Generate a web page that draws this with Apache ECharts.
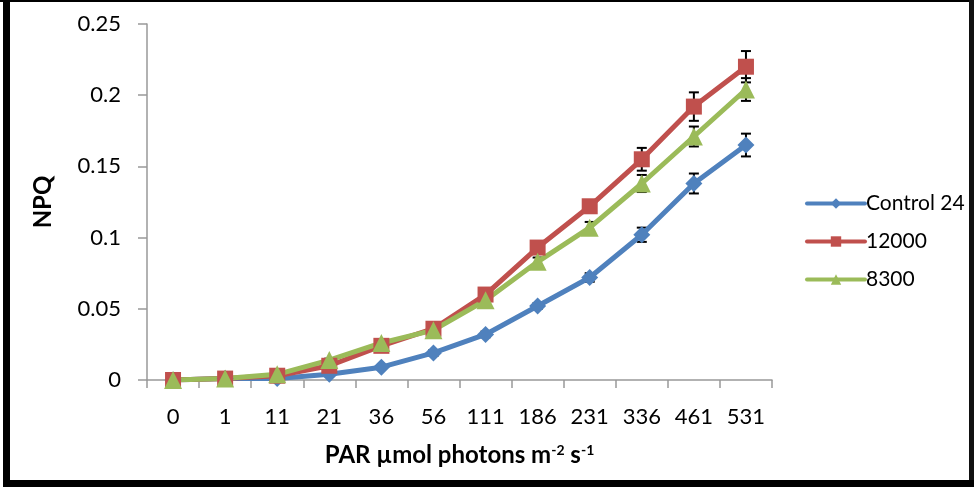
<!DOCTYPE html>
<html>
<head>
<meta charset="utf-8">
<script src="https://cdn.jsdelivr.net/npm/echarts@6/dist/echarts.min.js"></script>
<style>
  html, body { margin: 0; padding: 0; background: #fff; }
  #main { width: 974px; height: 487px; }
</style>
</head>
<body>
<div id="main"></div>
<script type="text/javascript">

	var par = ['0', '1', '11', '21', '36', '56', '111', '186', '231', '336', '461', '531'];

	var control24 = [0, 0.001, 0.001, 0.004, 0.009, 0.019, 0.032, 0.052, 0.072, 0.102, 0.138, 0.165];
	var s12000    = [0, 0.001, 0.003, 0.010, 0.024, 0.036, 0.060, 0.093, 0.122, 0.155, 0.192, 0.220];
	var s8300     = [0, 0.001, 0.004, 0.014, 0.026, 0.035, 0.056, 0.083, 0.107, 0.138, 0.171, 0.204];

	var errControl = [0, 0, 0, 0.001, 0.001, 0.002, 0.002, 0.002, 0.003, 0.005, 0.007, 0.008];
	var err12000   = [0, 0, 0, 0.001, 0.002, 0.002, 0.003, 0.003, 0.004, 0.008, 0.010, 0.011];
	var err8300    = [0, 0, 0, 0.001, 0.001, 0.002, 0.002, 0.003, 0.004, 0.006, 0.007, 0.008];

	var yTicks = [0, 0.05, 0.1, 0.15, 0.2, 0.25];

	var font = 'Lato, "Open Sans", sans-serif';

	function errData(vals, errs) {
		return vals.map(function (v, i) { return [i, v, errs[i]]; });
	}

	// black error bars with short caps, kept under the lines and markers
	function errSeries(vals, errs) {
		return {
			type: 'custom',
			z: 1,
			silent: true,
			data: errData(vals, errs),
			renderItem: function (params, api) {
				var i = api.value(0), v = api.value(1), e = api.value(2);
				if (!e) return;
				var top = api.coord([i, v + e]);
				var bot = api.coord([i, v - e]);
				var w = 5;
				var st = { stroke: '#000', lineWidth: 2 };
				return {
					type: 'group',
					children: [
						{ type: 'line', shape: { x1: top[0], y1: top[1], x2: bot[0], y2: bot[1] }, style: st },
						{ type: 'line', shape: { x1: top[0] - w, y1: top[1], x2: top[0] + w, y2: top[1] }, style: st },
						{ type: 'line', shape: { x1: bot[0] - w, y1: bot[1], x2: bot[0] + w, y2: bot[1] }, style: st }
					]
				};
			}
		};
	}

	var chart = echarts.init(document.getElementById('main'));
	chart.setOption({
		animation: false,
		textStyle: { fontFamily: font },
		graphic: [
			{ type: 'rect', shape: { x: 0, y: 0, width: 974, height: 2 }, style: { fill: '#000' }, z: 100 },
			{ type: 'rect', shape: { x: 3, y: 0, width: 7, height: 487 }, style: { fill: '#000' }, z: 100 },
			{ type: 'rect', shape: { x: 969, y: 0, width: 5, height: 487 }, style: { fill: '#111' }, z: 100 },
			{ type: 'rect', shape: { x: 3, y: 480, width: 971, height: 7 }, style: { fill: '#000' }, z: 100 }
		],
		grid: { left: 147, right: 202, top: 24, bottom: 107 },
		legend: {
			orient: 'vertical',
			left: 800,
			top: 188,
			itemWidth: 58,
			itemHeight: 13,
			itemGap: 17,
			lineStyle: { width: 4, cap: 'round' },
			textStyle: { fontFamily: font, fontSize: 21, color: '#000', padding: [0, 0, 0, -4] },
			data: ['Control 24', '12000', '8300']
		},
		xAxis: {
			type: 'category',
			data: par,
			boundaryGap: true,
			name: '{b|PAR µmol photons m}{s|-2}{b| s}{s|-1}',
			nameLocation: 'middle',
			nameGap: 63,
			nameTextStyle: {
				rich: {
					b: { fontFamily: font, fontSize: 24, fontWeight: 'bold', color: '#000' },
					s: { fontFamily: font, fontSize: 14, fontWeight: 'bold', color: '#000', verticalAlign: 'top', padding: [0, 0, 10, 0] }
				}
			},
			axisLine: { lineStyle: { color: '#999', width: 1.5 } },
			axisTick: { show: true, length: 8, lineStyle: { color: '#999', width: 1.5 } },
			axisLabel: { color: '#000', fontSize: 22, margin: 26, fontFamily: font }
		},
		yAxis: {
			type: 'value',
			min: 0,
			max: 0.25,
			interval: 0.05,
			name: 'NPQ',
			nameLocation: 'middle',
			nameGap: 92,
			nameTextStyle: { fontFamily: font, fontSize: 24, fontWeight: 'bold', color: '#000' },
			axisLine: { show: true, lineStyle: { color: '#999', width: 1.5 } },
			axisTick: { show: true, length: 9, lineStyle: { color: '#999', width: 1.5 } },
			splitLine: { show: false },
			axisLabel: {
				color: '#000', fontSize: 22, margin: 26, fontFamily: font,
				formatter: function (v) { return yTicks.indexOf(v) >= 0 ? String(v) : ''; }
			}
		},
		series: [
			{
				name: 'Control 24',
				type: 'line',
				data: control24,
				symbol: 'diamond',
				symbolSize: 17,
				lineStyle: { color: '#4F81BD', width: 5 },
				itemStyle: { color: '#4F81BD' },
				z: 2
			},
			{
				name: '12000',
				type: 'line',
				data: s12000,
				symbol: 'rect',
				symbolSize: 16,
				lineStyle: { color: '#C0504D', width: 5 },
				itemStyle: { color: '#C0504D' },
				z: 2
			},
			{
				name: '8300',
				type: 'line',
				data: s8300,
				symbol: 'triangle',
				symbolSize: 18,
				lineStyle: { color: '#9BBB59', width: 5 },
				itemStyle: { color: '#9BBB59' },
				z: 2
			},
			errSeries(control24, errControl),
			errSeries(s12000, err12000),
			errSeries(s8300, err8300)
		]
	});

</script>
</body>
</html>
